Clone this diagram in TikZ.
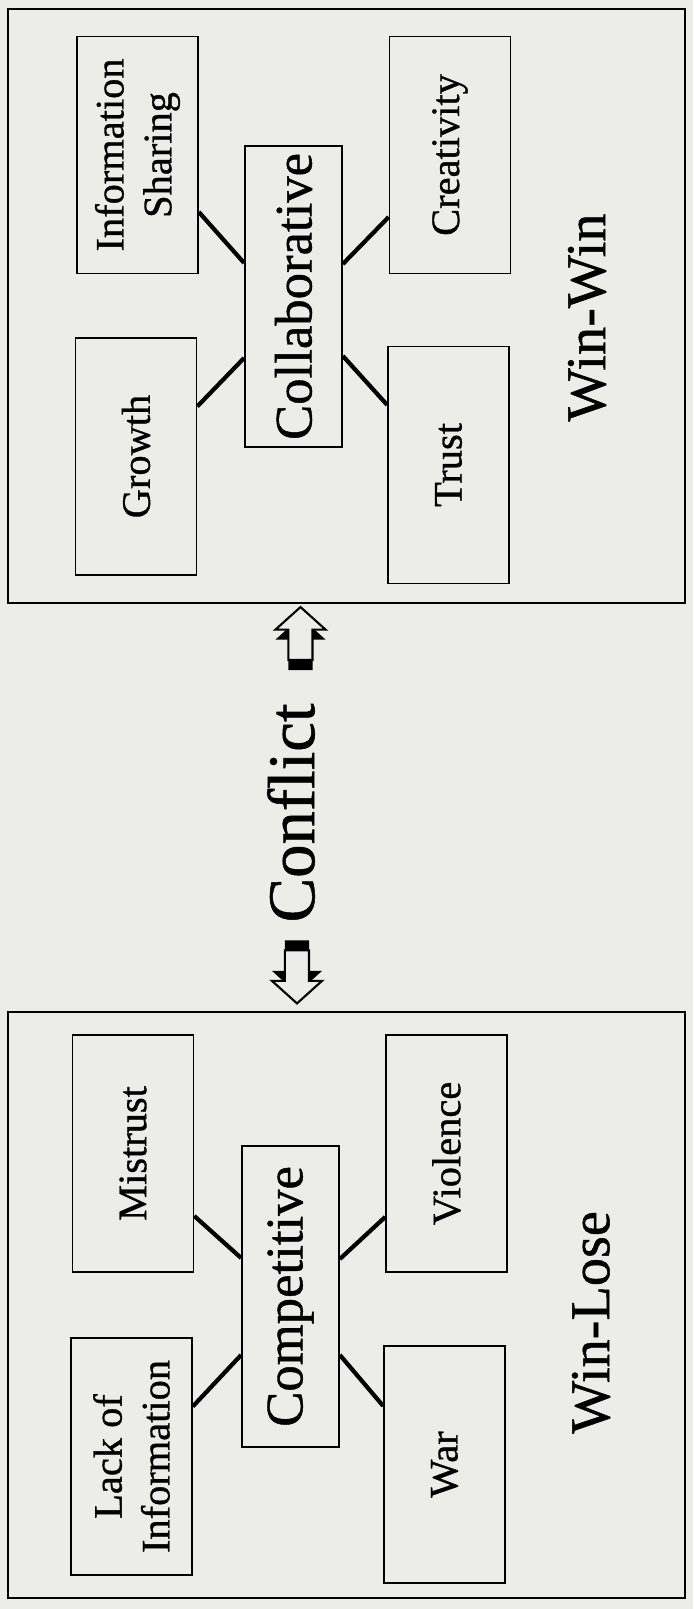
\documentclass[tikz,border=0pt]{standalone}
\usepackage{fontspec}
\setmainfont[FakeBold=0.8]{Liberation Serif}
\definecolor{paper}{RGB}{236,236,232}
\usetikzlibrary{shapes.arrows}

\tikzset{
  item/.style={draw, line width=0.45pt, minimum width=2.37cm, minimum height=1.21cm, align=center, inner sep=1pt, font=\fontsize{11.5}{13.6}\selectfont},
  core/.style={draw, line width=0.5pt, minimum width=3.01cm, minimum height=0.97cm, inner sep=1pt, font=\fontsize{15}{18}\selectfont},
  frame/.style={draw, line width=0.8pt},
  link/.style={line width=1.2pt},
  outcome/.style={font=\fontsize{16}{19}\selectfont},
  bigarrow/.style={single arrow, draw, line width=0.6pt, fill=paper, minimum height=0.53cm, minimum width=0.48cm, inner sep=0.11cm, single arrow head extend=0.13cm, single arrow tip angle=96, single arrow head indent=0pt},
}

\begin{document}
\begin{tikzpicture}[rotate=90, transform shape]
  \fill[paper] (0,0) rectangle (16.09,6.93);
  \useasboundingbox (0,0) rectangle (16.09,6.93);

  % Win-Lose side
  \draw[frame] (0.11,0.08) rectangle (5.97,6.85);
  \node[item] (lack) at (1.525,5.615) {Lack of\\Information};
  \node[item] (mistrust) at (4.555,5.60) {Mistrust};
  \node[core] (compet) at (3.125,4.025) {Competitive};
  \node[item] (war) at (1.445,2.485) {War};
  \node[item] (violence) at (4.555,2.465) {Violence};
  \node[outcome] (winlose) at (2.865,1.02) {Win-Lose};

  \draw[link] ([xshift=5mm]lack.south) -- ([xshift=-5.85mm]compet.north);
  \draw[link] ([xshift=-6.25mm]mistrust.south) -- ([xshift=3.85mm]compet.north);
  \draw[link] ([xshift=5.85mm]war.north) -- ([xshift=-5.85mm]compet.south);
  \draw[link] ([xshift=-6.35mm]violence.north) -- ([xshift=3.75mm]compet.south);

  % Conflict in the middle
  \node[font=\fontsize{19}{23}\selectfont] (conflict) at (7.96,4.02) {Conflict};
  \node[bigarrow, preaction={fill=black, transform canvas={yshift=-1mm}}] (towin) at (9.70,3.925) {};
  \node[bigarrow, shape border rotate=180, preaction={fill=black, transform canvas={yshift=1mm}}] (tolose) at (6.375,3.96) {};

  % Win-Win side
  \draw[frame] (10.06,0.08) rectangle (16.00,6.85);
  \node[item] (growth) at (11.525,5.57) {Growth};
  \node[item] (sharing) at (14.54,5.555) {Information\\Sharing};
  \node[core] (collab) at (13.125,3.995) {Collaborative};
  \node[item] (trust) at (11.44,2.445) {Trust};
  \node[item] (creative) at (14.54,2.43) {Creativity};
  \node[outcome] (winwin) at (12.915,1.06) {Win-Win};

  \draw[link] ([xshift=5mm]growth.south) -- ([xshift=-6.15mm]collab.north);
  \draw[link] ([xshift=-5.7mm]sharing.south) -- ([xshift=3.35mm]collab.north);
  \draw[link] ([xshift=6mm]trust.north) -- ([xshift=-5.95mm]collab.south);
  \draw[link] ([xshift=-6.2mm]creative.north) -- ([xshift=3.25mm]collab.south);
\end{tikzpicture}
\end{document}
